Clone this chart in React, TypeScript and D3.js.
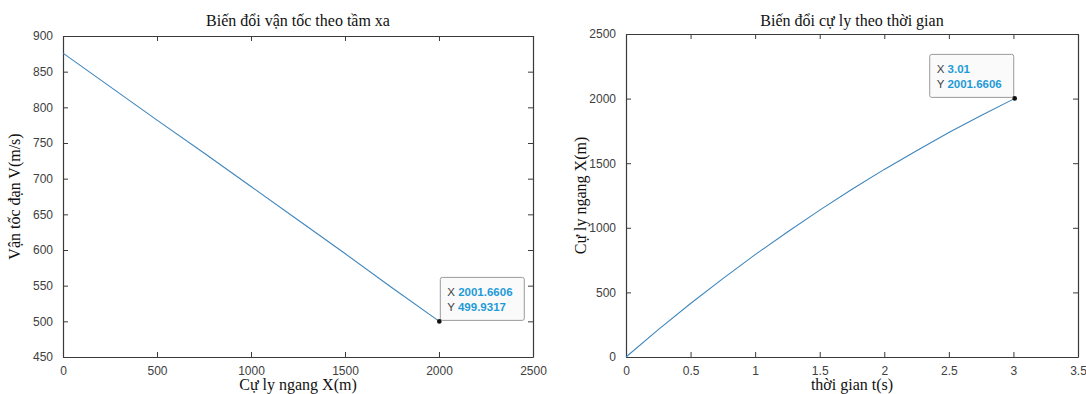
import { useEffect, useRef } from "react";
import * as d3 from "d3";

// left: velocity vs range
const rangeX = [0, 250, 500, 750, 1000, 1250, 1500, 1750, 2001.6606];
const velocity = [876, 829, 782, 736, 689, 642, 595, 547, 499.9317];

// right: range vs time
const timeT = [0, 0.25, 0.5, 0.75, 1, 1.25, 1.5, 1.75, 2, 2.25, 2.5, 2.75, 3, 3.01];
const rangeT = [0, 212, 414, 607, 792, 968, 1137, 1298, 1452, 1597, 1738, 1870, 1996, 2001.6606];

const leftXTicks = [0, 500, 1000, 1500, 2000, 2500];
const leftYTicks = [450, 500, 550, 600, 650, 700, 750, 800, 850, 900];
const rightXTicks = [0, 0.5, 1, 1.5, 2, 2.5, 3, 3.5];
const rightYTicks = [0, 500, 1000, 1500, 2000, 2500];

const W = 1086;
const H = 394;
const lineColor = "#3f86bd";
const axisColor = "#3a3a3a";
const tickFont = "'Liberation Sans', Arial, sans-serif";
const serif = "'Liberation Serif', 'Times New Roman', serif";

function drawPanel(svg, opts) {
  const { box, xDomain, yDomain, xTicks, yTicks, xs, ys, title, xLabel, yLabel, yLabelX, tip, tipSide } = opts;

  const x = d3.scaleLinear().domain(xDomain).range([box.left, box.right]);
  const y = d3.scaleLinear().domain(yDomain).range([box.bottom, box.top]);
  const g = svg.append("g");
  const plain = (d) => String(d);

  const styleAxis = (sel) => {
    sel.select(".domain").attr("stroke", axisColor).attr("stroke-width", 1.2);
    sel.selectAll(".tick line").attr("stroke", axisColor);
    sel.selectAll("text").attr("fill", "#404040").style("font-family", tickFont).style("font-size", "12px");
  };

  // bottom + top
  g.append("g")
    .attr("transform", `translate(0,${box.bottom})`)
    .call(d3.axisBottom(x).tickValues(xTicks).tickSizeInner(-5).tickSizeOuter(0).tickPadding(9).tickFormat(plain))
    .call(styleAxis);
  g.append("g")
    .attr("transform", `translate(0,${box.top})`)
    .call(d3.axisTop(x).tickValues(xTicks).tickSizeInner(-5).tickSizeOuter(0).tickFormat(() => ""))
    .call(styleAxis);
  // left + right
  g.append("g")
    .attr("transform", `translate(${box.left},0)`)
    .call(d3.axisLeft(y).tickValues(yTicks).tickSizeInner(-5).tickSizeOuter(0).tickPadding(10).tickFormat(plain))
    .call(styleAxis);
  g.append("g")
    .attr("transform", `translate(${box.right},0)`)
    .call(d3.axisRight(y).tickValues(yTicks).tickSizeInner(-5).tickSizeOuter(0).tickFormat(() => ""))
    .call(styleAxis);

  const line = d3.line().x((d) => x(d[0])).y((d) => y(d[1]));
  g.append("path")
    .datum(xs.map((v, i) => [v, ys[i]]))
    .attr("fill", "none")
    .attr("stroke", lineColor)
    .attr("stroke-width", 1.1)
    .attr("d", line);

  const cx = (box.left + box.right) / 2;
  g.append("text")
    .attr("x", cx)
    .attr("y", 26)
    .attr("text-anchor", "middle")
    .style("font-family", serif)
    .style("font-size", "16px")
    .attr("fill", "#111")
    .text(title);
  g.append("text")
    .attr("x", cx)
    .attr("y", 390)
    .attr("text-anchor", "middle")
    .style("font-family", serif)
    .style("font-size", "16px")
    .attr("fill", "#111")
    .text(xLabel);
  g.append("text")
    .attr("transform", `translate(${yLabelX},${(box.top + box.bottom) / 2}) rotate(-90)`)
    .attr("text-anchor", "middle")
    .style("font-family", serif)
    .style("font-size", "16px")
    .attr("fill", "#111")
    .text(yLabel);

  // data tip
  const px = x(tip[0]);
  const py = y(tip[1]);
  const bw = 84;
  const bh = 43;
  const bx = tipSide === "right" ? px + 1 : px - bw - 1;
  const by = py - bh - 1;
  g.append("rect")
    .attr("x", bx)
    .attr("y", by)
    .attr("width", bw)
    .attr("height", bh)
    .attr("rx", 2)
    .attr("fill", "#fafafa")
    .attr("stroke", "#9a9a9a")
    .attr("stroke-width", 1);
  const rows = [["X", tip[2]], ["Y", tip[3]]];
  rows.forEach((r, i) => {
    const t = g.append("text")
      .attr("x", bx + 7)
      .attr("y", by + 19 + i * 15)
      .style("font-family", tickFont)
      .style("font-size", "11.5px");
    t.append("tspan").attr("fill", "#404040").text(r[0] + " ");
    t.append("tspan").attr("fill", "#1e9ad8").attr("font-weight", "bold").text(r[1]);
  });
  g.append("circle").attr("cx", px).attr("cy", py).attr("r", 2.3).attr("fill", "#111");
}

export default function App() {
  const ref = useRef(null);

  useEffect(() => {
    document.body.style.margin = "0";
    const svg = d3.select(ref.current);
    svg.selectAll("*").remove();

    drawPanel(svg, {
      box: { left: 63, right: 533, top: 36, bottom: 357 },
      xDomain: [0, 2500],
      yDomain: [450, 900],
      xTicks: leftXTicks,
      yTicks: leftYTicks,
      xs: rangeX,
      ys: velocity,
      title: "Biến đổi vận tốc theo tầm xa",
      xLabel: "Cự ly ngang X(m)",
      yLabel: "Vận tốc đạn V(m/s)",
      yLabelX: 20,
      tip: [2001.6606, 499.9317, "2001.6606", "499.9317"],
      tipSide: "right",
    });

    drawPanel(svg, {
      box: { left: 626, right: 1078, top: 34, bottom: 357 },
      xDomain: [0, 3.5],
      yDomain: [0, 2500],
      xTicks: rightXTicks,
      yTicks: rightYTicks,
      xs: timeT,
      ys: rangeT,
      title: "Biến đổi cự ly theo thời gian",
      xLabel: "thời gian t(s)",
      yLabel: "Cự ly ngang X(m)",
      yLabelX: 586,
      tip: [3.01, 2001.6606, "3.01", "2001.6606"],
      tipSide: "left",
    });
  }, []);

  return (
    <svg
      ref={ref}
      width={W}
      height={H}
      style={{ position: "absolute", left: 0, top: 0, background: "#fff" }}
    />
  );
}
